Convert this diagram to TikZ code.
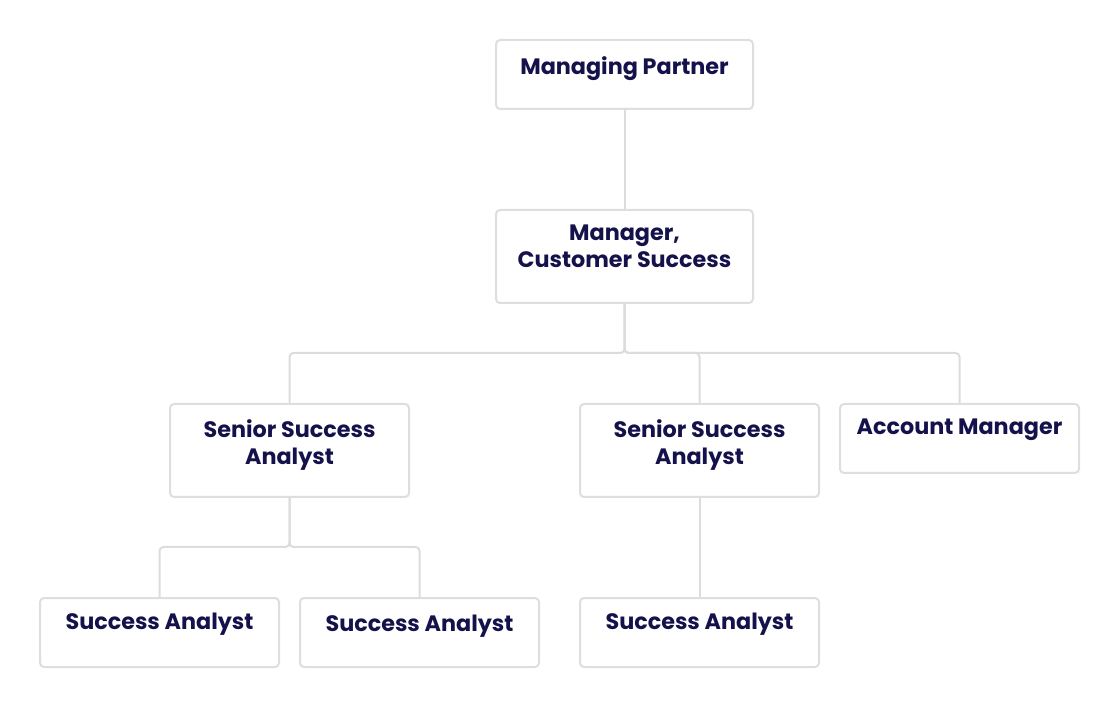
\documentclass[tikz,border=0pt]{standalone}
\usepackage{fontspec}
\setmainfont{Poppins}
\usetikzlibrary{calc}
\definecolor{ink}{HTML}{15124B}
\definecolor{edge}{HTML}{DEDEDE}
\definecolor{link}{HTML}{DCDCDC}
\tikzset{
  box/.style={draw=edge, line width=2pt, rounded corners=4pt, fill=white, inner sep=0pt, minimum width=#1},
  box/.default=239pt,
  lbl/.style={text=ink, font=\fontsize{22.3}{27}\selectfont\bfseries, align=center, inner sep=0pt, anchor=north},
  conn/.style={draw=link, line width=2pt, rounded corners=4pt}
}
\begin{document}
\begin{tikzpicture}[x=1pt,y=-1pt]
\useasboundingbox (0,0) rectangle (1120,708);
% boxes
\node[box=257pt, minimum height=69pt] (mp)  at (624.5,74.5) {};
\node[box=257pt, minimum height=93pt] (mcs) at (624.5,256.5) {};
\node[box, minimum height=93pt] (ssa1) at (289.5,450.5) {};
\node[box, minimum height=93pt] (ssa2) at (699.5,450.5) {};
\node[box, minimum height=69pt] (am)  at (959.5,438.5) {};
\node[box, minimum height=69pt] (sa1) at (159.5,632.5) {};
\node[box, minimum height=69pt] (sa2) at (419.5,632.5) {};
\node[box, minimum height=69pt] (sa3) at (699.5,632.5) {};
% labels
\node[lbl] (tmp)  at ($(mp.north)+(0,17)$) {Managing Partner};
\node[lbl] (tmcs) at ($(mcs.north)+(0,16)$) {Manager,\\Customer Success};
\node[lbl] (tssa1) at ($(ssa1.north)+(0,16)$) {Senior Success\\Analyst};
\node[lbl] (tssa2) at ($(ssa2.north)+(0,16)$) {Senior Success\\Analyst};
\node[lbl] (tam)  at ($(am.north)+(0,16)$) {Account Manager};
\node[lbl] (tsa1) at ($(sa1.north)+(0,16)$) {Success Analyst};
\node[lbl] (tsa2) at ($(sa2.north)+(0,18)$) {Success Analyst};
\node[lbl] (tsa3) at ($(sa3.north)+(0,16)$) {Success Analyst};
% connectors
\coordinate (bus1) at (624.5,353);
\coordinate (bus2) at (289.5,547);
\draw[conn] (mp.south) -- (mcs.north);
\draw[conn] (mcs.south) -- (bus1) -| (ssa1.north);
\draw[conn] (mcs.south) -- (bus1) -| (ssa2.north);
\draw[conn] (mcs.south) -- (bus1) -| (am.north);
\draw[conn] (ssa1.south) -- (bus2) -| (sa1.north);
\draw[conn] (ssa1.south) -- (bus2) -| (sa2.north);
\draw[conn] (ssa2.south) -- (sa3.north);
\end{tikzpicture}
\end{document}
